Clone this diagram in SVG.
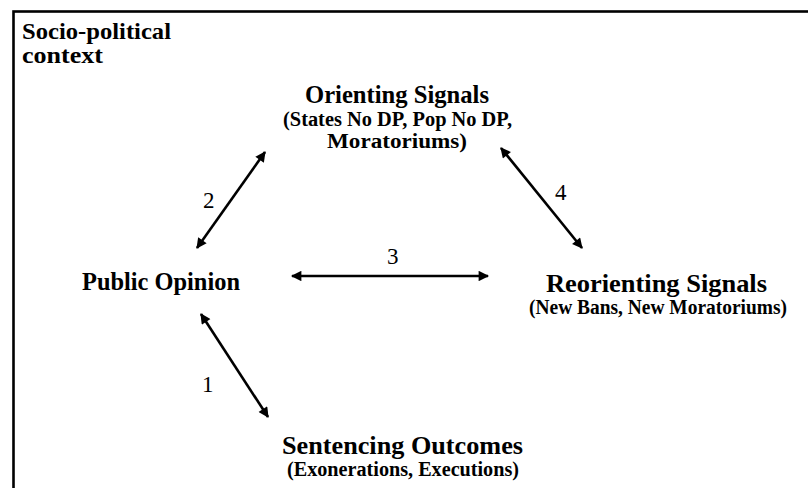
<svg xmlns="http://www.w3.org/2000/svg" width="808" height="488" viewBox="0 0 808 488">
<style>
.t{font-family:"Liberation Serif","Times New Roman",serif;font-weight:bold;fill:#000}
.h{font-size:26px;text-anchor:middle}
.s{font-size:20px;text-anchor:middle}
.n{font-family:"Liberation Serif","Times New Roman",serif;font-size:23px;fill:#000}
.c{stroke:#000;stroke-width:2.6;fill:none;marker-start:url(#a);marker-end:url(#a)}
</style>
<defs>
<marker id="a" viewBox="0 0 10 10" refX="9" refY="5" markerWidth="5" markerHeight="4" orient="auto-start-reverse" markerUnits="strokeWidth">
<path d="M0,0 L10,5 L0,10 z" fill="#000"/>
</marker>
</defs>
<rect x="0" y="0" width="808" height="488" fill="#fff"/>
<rect x="13.5" y="11.5" width="820" height="500" fill="none" stroke="#000" stroke-width="2.6"/>
<g id="context"><text class="t" x="22" y="39" font-size="24" textLength="149" lengthAdjust="spacingAndGlyphs">Socio-political</text><text class="t" x="22" y="63" font-size="24" textLength="81" lengthAdjust="spacingAndGlyphs">context</text></g>
<g id="orienting"><text class="t h" x="397" y="103" textLength="184" lengthAdjust="spacingAndGlyphs">Orienting Signals</text><text class="t s" x="397.5" y="126" textLength="229" lengthAdjust="spacingAndGlyphs">(States No DP, Pop No DP,</text><text class="t s" x="397" y="148" textLength="140" lengthAdjust="spacingAndGlyphs">Moratoriums)</text></g>
<g id="public"><text class="t h" x="161" y="290" textLength="158" lengthAdjust="spacingAndGlyphs">Public Opinion</text></g>
<g id="reorienting"><text class="t h" x="656.5" y="292" textLength="221" lengthAdjust="spacingAndGlyphs">Reorienting Signals</text><text class="t s" x="658" y="314" textLength="258" lengthAdjust="spacingAndGlyphs">(New Bans, New Moratoriums)</text></g>
<g id="sentencing"><text class="t h" x="402.5" y="454" textLength="241" lengthAdjust="spacingAndGlyphs">Sentencing Outcomes</text><text class="t s" x="403" y="476" textLength="232" lengthAdjust="spacingAndGlyphs">(Exonerations, Executions)</text></g>
<g id="connectors">
<line class="c" x1="197" y1="248" x2="265" y2="152"/>
<line class="c" x1="501" y1="148" x2="582" y2="248"/>
<line class="c" x1="292" y1="276" x2="488" y2="276"/>
<line class="c" x1="201" y1="314" x2="268" y2="417"/>
<text class="n" x="203" y="208">2</text>
<text class="n" x="555" y="200">4</text>
<text class="n" x="387" y="264">3</text>
<text class="n" x="202" y="392">1</text>
</g>
</svg>
